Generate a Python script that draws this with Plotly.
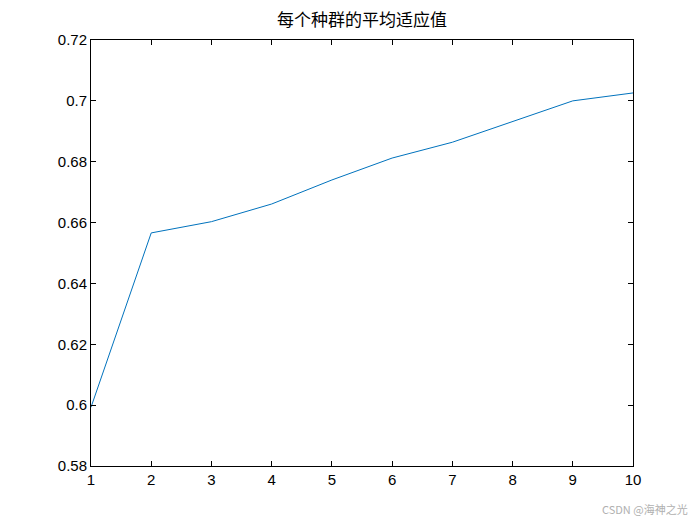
import plotly.graph_objects as go

generations = [1, 2, 3, 4, 5, 6, 7, 8, 9, 10]
avg_fitness = [0.5993, 0.6566, 0.6603, 0.6661, 0.6740, 0.6812, 0.6864, 0.6932, 0.7000, 0.7026]
x_ticks = [1, 2, 3, 4, 5, 6, 7, 8, 9, 10]
y_ticks = [0.58, 0.60, 0.62, 0.64, 0.66, 0.68, 0.70, 0.72]
y_labels = ["0.58", "0.6", "0.62", "0.64", "0.66", "0.68", "0.7", "0.72"]

fig = go.Figure()
fig.add_trace(go.Scatter(x=generations, y=avg_fitness, mode="lines",
                         line=dict(color="#0072BD", width=1), showlegend=False))

axis_common = dict(showline=True, linecolor="black", linewidth=1, mirror="ticks",
                   ticks="inside", ticklen=5, tickcolor="black", showgrid=False,
                   zeroline=False, tickfont=dict(family="Liberation Sans, Arial", size=15, color="black"))

fig.update_layout(
    width=700, height=525,
    margin=dict(l=91, r=67, t=40, b=59),
    paper_bgcolor="white", plot_bgcolor="white",
    title=dict(text="每个种群的平均适应值", x=0.5, xanchor="center", xref="paper",
               y=1, yref="container", yanchor="top", pad=dict(t=14),
               font=dict(family="Noto Sans CJK SC", size=17, color="black")),
    xaxis=dict(range=[1, 10], tickvals=x_ticks, **axis_common),
    yaxis=dict(range=[0.58, 0.72], tickvals=y_ticks, ticktext=y_labels, **axis_common),
)
fig.add_annotation(text="CSDN @海神之光", xref="paper", yref="paper", x=1.105, y=-0.125,
                   xanchor="right", yanchor="bottom", showarrow=False,
                   font=dict(family="Noto Sans CJK SC", size=11, color="#b0b0b0"))
fig.write_html("out.html", config={"displayModeBar": False},
               post_script="document.body.style.margin='0';")
